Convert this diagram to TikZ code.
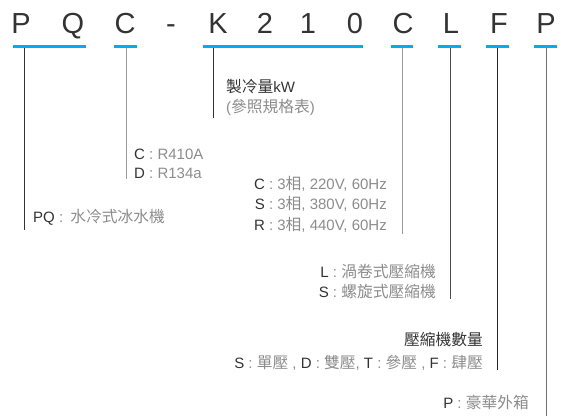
\documentclass[tikz,border=0pt]{standalone}
\usepackage{fontspec}
\setmainfont{Liberation Sans}
\newfontfamily\cjk[Scale=1.05]{Noto Sans CJK TC}
\definecolor{codeblue}{HTML}{00AEEF}
\definecolor{txtgray}{HTML}{8C8C8C}
\definecolor{txtdark}{HTML}{333333}
\newcommand{\key}[1]{\textcolor{txtdark}{#1}}
\tikzset{
  letter/.style={font=\fontsize{29}{29}\selectfont, text=txtdark, inner sep=0pt, anchor=base},
  bar/.style={draw=codeblue, line width=3pt},
  guide/.style={line width=1pt},
  lbl/.style={font=\fontsize{15}{16}\selectfont, text=txtgray, inner sep=0pt},
  head/.style={lbl, text=txtdark},
}
\begin{document}
\begin{tikzpicture}[x=1pt,y=-1pt]
\useasboundingbox (0,0) rectangle (564,419);
  % code letters
  \foreach \ch/\x [count=\i] in {P/21,Q/73,C/125,-/171,K/218,2/265,1/308,0/355,C/403,L/451,F/499,P/546}
    \node[letter] (ch\i) at (\x,34) {\ch};
  % underlines
  \foreach \a/\b in {13/86,114/137,203/363,391/413,438/461,486/509,534/557}
    \draw[bar] (\a,47) -- (\b,47);
  % guide lines
  \foreach \n/\x/\y/\col in {pq/24/230/txtdark,ref/126/179/gray!80,cap/213/118/txtdark,
                             pow/402/234/gray!80,cmp/450/299/black!70,num/497/370/black!85,box/546/416/black!55}
    \draw[guide,\col] (\x,48) coordinate (top-\n) -- (\x,\y) coordinate (end-\n);
  % labels
  \node[head, anchor=base west] (capa) at (226,93) {{\cjk 製冷量}kW};
  \node[lbl, anchor=base west] (capb) at (226,113) {({\cjk 參照規格表})};
  \node[lbl, anchor=base west] (refa) at (134,160) {\key{C} : R410A};
  \node[lbl, anchor=base west] (refb) at (134,179) {\key{D} : R134a};
  \node[lbl, anchor=base east] (powa) at (387,190) {\key{C} : 3{\cjk 相}, 220V, 60Hz};
  \node[lbl, anchor=base east] (powb) at (387,210) {\key{S} : 3{\cjk 相}, 380V, 60Hz};
  \node[lbl, anchor=base east] (powc) at (387,231) {\key{R} : 3{\cjk 相}, 440V, 60Hz};
  \node[lbl, anchor=base west] (pq) at (33,223) {\key{PQ} :\hspace{3pt} {\cjk 水冷式冰水機}};
  \node[lbl, anchor=base east] (cmpa) at (436,277) {\key{L} : {\cjk 渦卷式壓縮機}};
  \node[lbl, anchor=base east] (cmpb) at (436,297) {\key{S} : {\cjk 螺旋式壓縮機}};
  \node[head, anchor=base east] (numa) at (483,345) {\cjk 壓縮機數量};
  \node[lbl, anchor=base east] (numb) at (483,368) {\key{S} : {\cjk 單壓} , \key{D} : {\cjk 雙壓}, \key{T} : {\cjk 參壓} , \key{F} : {\cjk 肆壓}};
  \node[lbl, anchor=base east] (box) at (529,408) {\key{P} : {\cjk 豪華外箱}};
\end{tikzpicture}
\end{document}
